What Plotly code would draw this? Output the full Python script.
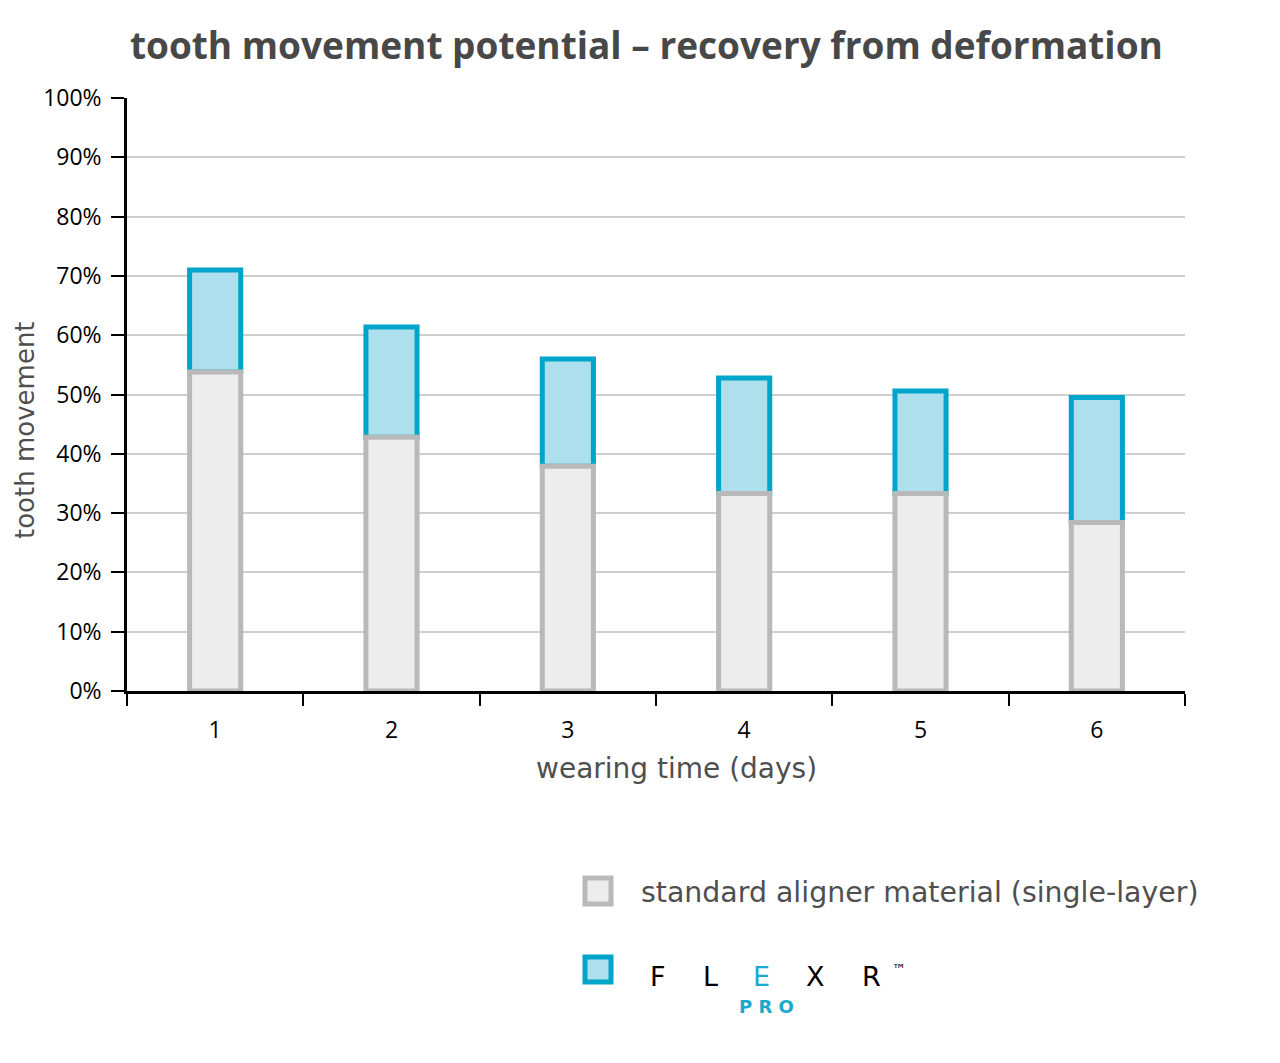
import plotly.graph_objects as go

days = ["1", "2", "3", "4", "5", "6"]
standard = [53.8, 42.8, 37.9, 33.3, 33.3, 28.4]
flexr_total = [71.0, 61.4, 56.0, 52.8, 50.6, 49.5]
y_ticks = [0, 10, 20, 30, 40, 50, 60, 70, 80, 90, 100]
y_tick_text = [f"{v}%" for v in y_ticks]

extra = [t - s for t, s in zip(flexr_total, standard)]

FONT = "Open Sans"
FONT2 = "DejaVu Sans"
GREY_LINE = "#b9b9b9"
GREY_FILL = "#ededed"
BLUE_LINE = "#00a5c9"
BLUE_FILL = "#aedfec"
TXT = "#4f4f4f"

fig = go.Figure()
fig.add_trace(go.Bar(
    x=days, y=extra, base=standard, name="FLEXR PRO",
    marker=dict(color=BLUE_FILL, line=dict(color=BLUE_LINE, width=5)),
    width=0.29, showlegend=False,
))
fig.add_trace(go.Bar(
    x=days, y=standard, name="standard aligner material (single-layer)",
    marker=dict(color=GREY_FILL, line=dict(color=GREY_LINE, width=5)),
    width=0.29, showlegend=False,
))

fig.update_layout(
    width=1280, height=1063,
    margin=dict(l=127, r=95, t=98, b=372),
    barmode="overlay",
    plot_bgcolor="white", paper_bgcolor="white",
    font=dict(family=FONT),
    title=dict(
        text="<b>tooth movement potential – recovery from deformation</b>",
        x=0.505, xanchor="center", y=0.957, yanchor="middle",
        font=dict(family=FONT, size=37, color="#484848"),
    ),
)

fig.update_yaxes(
    range=[0, 100], tickmode="array", tickvals=y_ticks, ticktext=y_tick_text,
    showgrid=True, gridcolor="#cfcfcf", gridwidth=1.5,
    showline=True, linecolor="black", linewidth=2.5,
    ticks="outside", ticklen=13, tickwidth=2, tickcolor="black",
    ticklabelstandoff=5,
    tickfont=dict(family=FONT, size=23, color="black"),
    zeroline=False,
)
fig.update_xaxes(
    type="category", range=[-0.5, 5.5],
    showline=True, linecolor="black", linewidth=2.5,
    ticks="outside", tickson="boundaries", ticklen=12, tickwidth=2, tickcolor="black",
    ticklabelstandoff=17,
    tickfont=dict(family=FONT, size=23, color="black"),
    showgrid=False,
)

PW, PH, L, T = 1058, 593, 127, 98

def ax(xp):
    return (xp - L) / PW

def ay(yp):
    return (T + PH - yp) / PH

# axis titles
fig.add_annotation(xref="paper", yref="paper", x=ax(25), y=ay(430),
                   xanchor="center", yanchor="middle", showarrow=False, textangle=-90,
                   text="tooth movement", font=dict(family=FONT2, size=26, color=TXT))
fig.add_annotation(xref="paper", yref="paper", x=ax(676), y=ay(768),
                   xanchor="center", yanchor="middle", showarrow=False,
                   text="wearing time (days)", font=dict(family=FONT2, size=28, color=TXT))

# custom legend
fig.add_shape(type="rect", xref="paper", yref="paper",
              x0=ax(585), x1=ax(611), y0=ay(904), y1=ay(878),
              fillcolor=GREY_FILL, line=dict(color=GREY_LINE, width=5))
fig.add_shape(type="rect", xref="paper", yref="paper",
              x0=ax(585), x1=ax(611), y0=ay(982), y1=ay(957),
              fillcolor=BLUE_FILL, line=dict(color=BLUE_LINE, width=5))

fig.add_annotation(xref="paper", yref="paper", x=ax(639), y=ay(892),
                   xanchor="left", yanchor="middle", showarrow=False,
                   text="standard aligner material (single-layer)",
                   font=dict(family=FONT2, size=28.4, color=TXT))

logo_letters = ["F", "L", "E", "X", "R", "™"]
logo_x = [658, 710, 761, 815, 871, 899]
logo_colors = ["black", "black", "#1ba8cf", "black", "black", "black"]
logo_sizes = [27, 27, 27, 27, 27, 14]
logo_y = [976, 976, 976, 976, 976, 969]
for ch, xx, cc, ss, yy in zip(logo_letters, logo_x, logo_colors, logo_sizes, logo_y):
    fig.add_annotation(xref="paper", yref="paper", x=ax(xx), y=ay(yy),
                       xanchor="center", yanchor="middle", showarrow=False,
                       text=ch, font=dict(family=FONT2, size=ss, color=cc))
fig.add_annotation(xref="paper", yref="paper", x=ax(766), y=ay(1006),
                   xanchor="center", yanchor="middle", showarrow=False,
                   text="<b>P R O</b>",
                   font=dict(family=FONT2, size=18, color="#1ba8cf"))

fig.write_html("out.html")
